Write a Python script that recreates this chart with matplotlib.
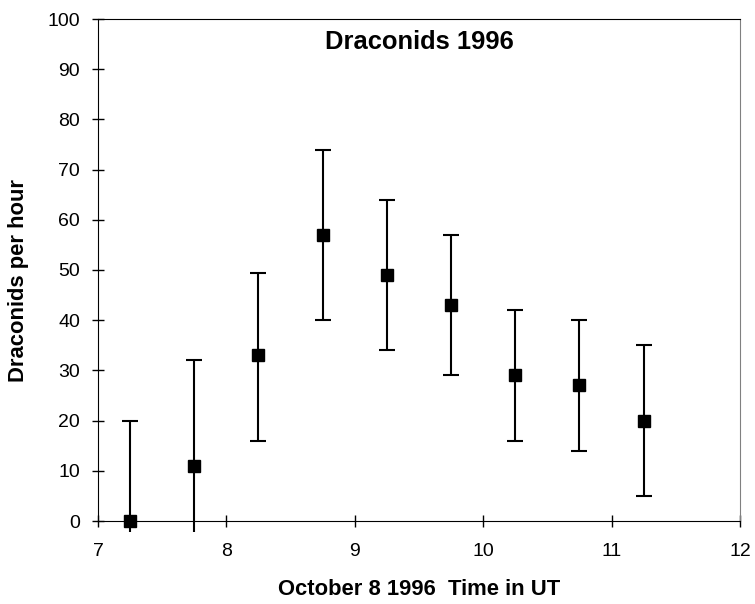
import matplotlib
matplotlib.use("Agg")
import matplotlib.pyplot as plt
import matplotlib.patches as mpatches
import numpy as np

plt.rcParams['font.family'] = ['Liberation Sans', 'DejaVu Sans']

# half-hour bins, rates and their error limits
time_ut = [7.25, 7.75, 8.25, 8.75, 9.25, 9.75, 10.25, 10.75, 11.25]
rate = [0, 11, 33, 57, 49, 43, 29, 27, 20]
rate_hi = [20, 32, 49.5, 74, 64, 57, 42, 40, 35]
rate_lo = [-20, -10, 16, 40, 34, 29, 16, 14, 5]

x = np.array(time_ut)
y = np.array(rate)
err = [y - np.array(rate_lo), np.array(rate_hi) - y]

fig = plt.figure(figsize=(7.55, 6.04), dpi=100)
ax = fig.add_axes([98/755, 1 - 521/604, 642/755, 502/604])

eb = ax.errorbar(x, y, yerr=err, fmt='s', color='black', ms=8.5,
                 elinewidth=1.5, capsize=5.5, capthick=1.5, zorder=3)

# Excel lets the bars run a little past the bottom axis
clip = mpatches.Rectangle((0, -0.022), 1, 1.03, transform=ax.transAxes,
                          facecolor='none', edgecolor='none')
ax.add_patch(clip)
for art in [eb[0]] + list(eb[1]) + list(eb[2]):
    art.set_clip_path(clip)

ax.set_xlim(7, 12)
ax.set_ylim(0, 100)
ax.set_xticks(range(7, 13))
ax.set_yticks(range(0, 101, 10))
ax.tick_params(direction='inout', length=8, width=1, labelsize=14)
ax.tick_params(axis='y', pad=9)
ax.tick_params(axis='x', pad=11.5)

for s in ['left', 'bottom', 'top']:
    ax.spines[s].set_color('black')
ax.spines['right'].set_color('#808080')

ax.text(0.5, 0.955, 'Draconids 1996', transform=ax.transAxes, ha='center',
        va='center', fontsize=18.4, fontweight='bold')
ax.set_xlabel('October 8 1996  Time in UT', fontsize=15.8, fontweight='bold',
              labelpad=14)
ax.set_ylabel('Draconids per hour', fontsize=15.8, fontweight='bold')
ax.yaxis.set_label_coords(-0.108, 0.48)

fig.savefig('out.png', dpi=100)
